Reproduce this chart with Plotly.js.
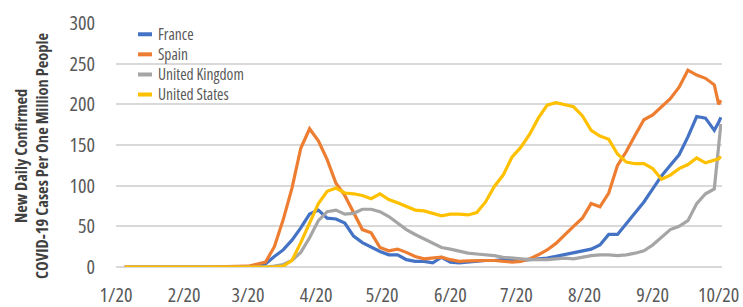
<!DOCTYPE html>
<html>
<head>
<meta charset="utf-8">
<script src="https://cdn.plot.ly/plotly-3.0.1.min.js"></script>
<style>
html,body{margin:0;padding:0;background:#fff;}
#chart{width:743px;height:307px;}
svg text{font-stretch:75%;}
</style>
</head>
<body>
<div id="chart"></div>
<script>
const dates = ['2020-01-05','2020-01-21','2020-02-10',
  '2020-03-01','2020-03-05','2020-03-09','2020-03-13','2020-03-17','2020-03-21','2020-03-25','2020-03-29',
  '2020-04-02','2020-04-06','2020-04-10','2020-04-14','2020-04-18','2020-04-22','2020-04-26','2020-04-30',
  '2020-05-04','2020-05-08','2020-05-12','2020-05-16','2020-05-20','2020-05-24','2020-05-28',
  '2020-06-01','2020-06-05','2020-06-09','2020-06-13','2020-06-17','2020-06-21','2020-06-25','2020-06-29',
  '2020-07-03','2020-07-07','2020-07-11','2020-07-15','2020-07-19','2020-07-23','2020-07-27','2020-07-31',
  '2020-08-04','2020-08-08','2020-08-12','2020-08-16','2020-08-20','2020-08-24','2020-08-28',
  '2020-09-01','2020-09-05','2020-09-09','2020-09-13','2020-09-17','2020-09-21','2020-09-25','2020-09-29',
  '2020-10-01','2020-10-02'];

const france = [0,0,0, 0,1,4,13,21,33,48,65, 70,60,59,54,38,30,24,19, 15,15,9,7,7,5,12,
  6,5,6,7,8,8,9,8, 8,9,10,11,13,15,17,20, 22,27,40,40,53,66,80, 96,112,125,138,160,185,183,168, 178,184];
const spain = [0,0,0, 1,3,6,25,58,97,146,170, 155,132,103,88,66,46,42,24, 20,22,18,13,10,11,12,
  9,7,7.5,8,8,8,7,6, 7,10,15,21,29,40,50,60, 78,74,91,125,142,162,181, 187,197,207,221,242,236,232,224, 200,205];
const uk = [0,0,0, 0,0,0,1,3,8,18,36, 57,68,70,65,66,71,71,68, 62,54,46,40,35,30,24,
  22,19,17,16,15,14,12,11, 10,9,9,9,10,11,10,12, 14,15,15,14,15,17,20, 27,37,46,50,57,78,90,96, 150,176];
const us = [0,0,0, 0,0,0,0,1,8,30,53, 78,93,97,91,90,88,84,90, 83,79,75,70,69,66,63,
  65,65,64,67,80,99,113,135, 147,163,183,199,202,199,197,186, 168,161,157,139,129,127,127, 121,108,113,121,126,134,128,132, 133,136];

const seriesNames = ['France','Spain','United Kingdom','United States'];
const seriesValues = [france, spain, uk, us];
const seriesColors = ['#4472c4','#ed7d31','#a5a5a5','#ffc000'];

const tickDates = ['2020-01-01','2020-02-01','2020-03-01','2020-04-01','2020-05-01','2020-06-01','2020-07-01','2020-08-01','2020-09-01','2020-10-01'];
const tickLabels = ['1/20','2/20','3/20','4/20','5/20','6/20','7/20','8/20','9/20','10/20'];
const yTitleLines = ['New Daily Confirmed','COVID-19 Cases Per One Million People'];

const FONT = '"Open Sans", "DejaVu Sans Condensed", sans-serif';

const traces = seriesNames.map((n,i)=>({
  type:'scatter', mode:'lines', name:n, x:dates, y:seriesValues[i],
  line:{color:seriesColors[i], width:3.2}, showlegend:false, hoverinfo:'x+y+name'
}));

// compact legend drawn like the original: one text block + colour samples
const legRowsY = [0.9538, 0.8716, 0.7890, 0.7069];
const shapes = [];
seriesNames.forEach((n,i)=>{
  shapes.push({type:'line', xref:'paper', yref:'paper', x0:0.0363, x1:0.0594, y0:legRowsY[i], y1:legRowsY[i],
    line:{color:seriesColors[i], width:4}});
});
const annotations = [
  {xref:'paper', yref:'paper', x:0.0660, y:0.8303, xanchor:'left', yanchor:'middle', align:'left',
    text:seriesNames.join('<br>'), showarrow:false, font:{family:FONT, size:15.5, color:'#595959'}},
  {xref:'paper', yref:'paper', x:-0.1403, y:0.459, xanchor:'center', yanchor:'middle',
    text:yTitleLines.map(s=>'<b>'+s+'</b>').join('<br>'), textangle:-90, showarrow:false,
    font:{family:FONT, size:16.5, color:'#404040'}}
];

const layout = {
  width:743, height:307,
  margin:{l:116, r:21, t:23, b:40},
  paper_bgcolor:'#ffffff', plot_bgcolor:'#ffffff',
  showlegend:false,
  xaxis:{type:'date', range:['2020-01-01','2020-10-02 12:00'], tickvals:tickDates, ticktext:tickLabels,
    showgrid:false, zeroline:false, showline:false, ticks:'', ticklabelstandoff:14, ticklabeloverflow:'allow',
    tickfont:{family:FONT, size:20, color:'#595959'}, fixedrange:true},
  yaxis:{range:[0,300], tickvals:[0,50,100,150,200,250,300], showgrid:true, gridcolor:'#d9d9d9', gridwidth:1.8,
    zeroline:true, zerolinecolor:'#d9d9d9', zerolinewidth:1.8, showline:false, ticks:'', ticklabelstandoff:20,
    tickfont:{family:FONT, size:20, color:'#595959'}, fixedrange:true},
  shapes:shapes,
  annotations:annotations
};

Plotly.newPlot('chart', traces, layout, {displayModeBar:false, staticPlot:true});
</script>
</body>
</html>
